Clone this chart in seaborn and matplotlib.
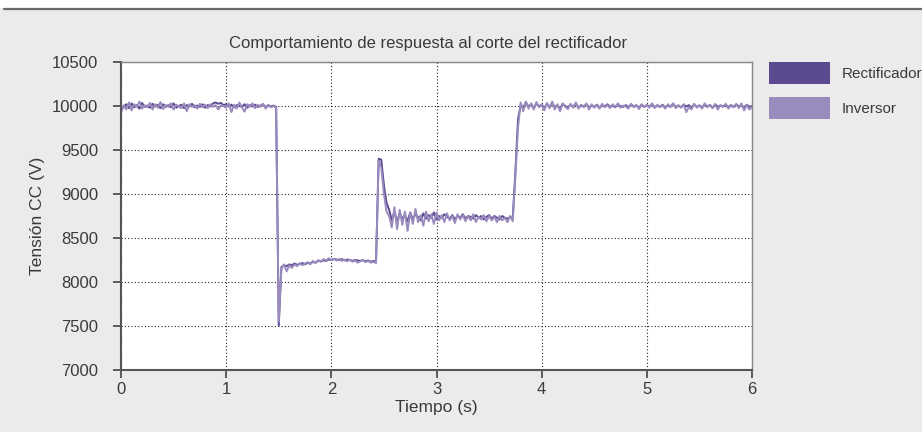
import numpy as np
import pandas as pd
import matplotlib
matplotlib.use("Agg")
import matplotlib.pyplot as plt
from matplotlib.patches import Patch, Rectangle
from matplotlib.lines import Line2D
import seaborn as sns

# ---------------- data (dt = 0.025 s) ----------------
dt = 0.025
rect_a = [9950, 9990, 10020, 9975, 10030, 9985, 10010, 9970, 10035, 9990,
          10005, 9980, 10025, 9995, 10015, 9975, 10020, 9990, 10010, 9985,
          10030, 9980, 10000, 10015, 9975, 10010, 9995, 10025, 9985, 10005,
          9990, 10020, 9980, 10010, 9995, 10030, 10040, 10025, 10035, 10010,
          10020, 9995, 10015, 9985, 10010, 10000, 9990, 10020, 9980, 10010,
          9995, 10015, 9990, 10005, 10020, 9985, 10010, 9995, 10005, 9990]
rect_drop = [7500]
rect_b = [8170, 8190, 8180, 8200, 8190, 8210, 8195, 8205, 8215, 8200,
          8220, 8210, 8230, 8220, 8240, 8235, 8245, 8240, 8255, 8250,
          8260, 8255, 8250, 8260, 8245, 8255, 8250, 8240, 8250, 8245,
          8240, 8250, 8235, 8245, 8230, 8240, 8230]
rect_peak = [9400, 9390, 9100, 8900, 8820]
rect_c = [8700, 8800, 8680, 8780, 8720, 8760, 8690, 8790, 8710, 8770,
          8740, 8700, 8780, 8720, 8760, 8730, 8790, 8710, 8750, 8730,
          8770, 8740, 8720, 8760, 8710, 8750, 8730, 8770, 8720, 8750,
          8740, 8720, 8760, 8730, 8750, 8710, 8740, 8760, 8720, 8750,
          8730, 8710, 8750, 8730, 8720, 8740, 8730]
rect_rise = [9250, 9850]
rect_d = [10010, 9985, 10040, 9990, 10025, 9975, 10030, 9995, 10015, 9980,
          10020, 9990, 10035, 9985, 10010, 9970, 10025, 10000, 9985, 10015,
          9990, 10030, 9980, 10010, 9995, 10020, 9985, 10005, 9990, 10015,
          9980, 10010, 9995, 10020, 9990, 10005, 9985, 10015, 10000, 9990,
          10010, 9985, 10020, 9995, 10005, 9980, 10015, 9990, 10010, 9995,
          10020, 9985, 10005, 9990, 10015, 9980, 10010, 9995, 10025, 9990,
          10005, 9985, 10015, 9995, 10010, 9980, 10020, 9990, 10005, 9985,
          10015, 9995, 10010, 9980, 10020, 9990, 10005, 9995, 10015, 9985,
          10010, 9990, 10020, 9995, 10005, 9985, 10015, 9990, 10000]

inv_a = [9920, 10010, 9960, 10040, 9950, 10020, 9990, 10050, 9970, 10010,
         9985, 10035, 9960, 10020, 9980, 10045, 9965, 10010, 9990, 10030,
         9960, 10015, 9995, 9975, 10030, 9940, 10020, 9990, 10010, 9970,
         10025, 9985, 10015, 9975, 10020, 9990, 10010, 9960, 10005, 10000,
         9980, 10030, 9930, 10015, 9970, 10040, 9985, 9935, 10020, 9990,
         10030, 9975, 10015, 9990, 10025, 9970, 10010, 9985, 10000, 9980]
inv_drop = [7550]
inv_b = [8150, 8200, 8120, 8190, 8160, 8200, 8180, 8215, 8190, 8210,
         8225, 8200, 8240, 8215, 8250, 8230, 8260, 8245, 8270, 8250,
         8265, 8245, 8260, 8240, 8255, 8235, 8255, 8230, 8245, 8220,
         8235, 8250, 8225, 8240, 8220, 8230, 8215]
inv_peak = [9380, 9300, 9000, 8800, 8750]
inv_c = [8620, 8850, 8600, 8820, 8650, 8800, 8580, 8790, 8660, 8830,
         8680, 8760, 8640, 8800, 8690, 8770, 8660, 8790, 8700, 8760,
         8680, 8780, 8700, 8750, 8670, 8770, 8710, 8760, 8690, 8750,
         8700, 8770, 8680, 8740, 8710, 8760, 8690, 8750, 8700, 8740,
         8680, 8750, 8700, 8730, 8680, 8750, 8690]
inv_rise = [9200, 9750]
inv_d = [10040, 9940, 10050, 9970, 10030, 9960, 10045, 9985, 10020, 9950,
         10035, 9975, 10050, 9960, 10020, 9940, 10030, 9990, 9965, 10025,
         9980, 10040, 9970, 10015, 9985, 10030, 9960, 10020, 9980, 10010,
         9970, 10025, 9985, 10010, 9975, 10020, 9990, 10030, 9980, 10005,
         9995, 9970, 10025, 9985, 10015, 9965, 10020, 9990, 10010, 9980,
         10030, 9975, 10015, 9985, 10010, 9970, 10020, 9985, 10030, 9975,
         10010, 9980, 10020, 9930, 9990, 9960, 10025, 9980, 10010, 9970,
         10030, 9985, 10015, 9975, 10020, 9960, 10010, 9990, 10025, 9970,
         10005, 9985, 10020, 9975, 10030, 9950, 10010, 9960, 9990]

series_names = ["Rectificador", "Inversor"]
title = "Comportamiento de respuesta al corte del rectificador"
x_label = "Tiempo (s)"
y_label = "Tensión CC (V)"
x_ticks = [0, 1, 2, 3, 4, 5, 6]
y_ticks = [7000, 7500, 8000, 8500, 9000, 9500, 10000, 10500]

rect = rect_a + rect_drop + rect_b + rect_peak + rect_c + rect_rise + rect_d
inv = inv_a + inv_drop + inv_b + inv_peak + inv_c + inv_rise + inv_d
t_rect = np.arange(len(rect)) * dt
t_inv = np.arange(len(inv)) * dt

df = pd.concat([
    pd.DataFrame({"t": t_rect, "v": rect, "serie": series_names[0]}),
    pd.DataFrame({"t": t_inv, "v": inv, "serie": series_names[1]}),
])

c_rect = "#5b4a8f"
c_inv = "#9a8bbf"
c_text = "#3a3a3a"

sns.set_theme(style="white")
plt.rcParams["font.family"] = ["Liberation Sans", "DejaVu Sans"]

fig = plt.figure(figsize=(9.22, 4.32), dpi=100)
fig.patch.set_facecolor("#ebebeb")
# white strip with dark rule at top
fig.add_artist(Rectangle((0, 1 - 8 / 432), 1, 8 / 432, transform=fig.transFigure,
                         facecolor="white", edgecolor="none", zorder=0))
fig.add_artist(Line2D([4 / 922, 1], [1 - 9 / 432, 1 - 9 / 432], transform=fig.transFigure,
                      color="#6a6a6a", lw=1.6))

ax = fig.add_axes([121 / 922, 1 - 370 / 432, (752 - 121) / 922, (370 - 62) / 432])
ax.set_facecolor("white")

sns.lineplot(data=df, x="t", y="v", hue="serie", palette=[c_rect, c_inv],
             hue_order=series_names, legend=False, ax=ax, linewidth=1.4,
             estimator=None, sort=False)

ax.set_xlim(0, 6)
ax.set_ylim(7000, 10500)
ax.set_xticks(x_ticks)
ax.set_yticks(y_ticks)
ax.set_xticklabels([str(v) for v in x_ticks], fontsize=12, color=c_text)
ax.set_yticklabels([str(v) for v in y_ticks], fontsize=12, color=c_text)
ax.grid(True, linestyle=(0, (1, 2)), color="#222222", linewidth=0.8)
ax.tick_params(axis="both", direction="out", length=5.8, width=1.2, color="#444444",
               bottom=True, left=True)
ax.tick_params(axis="y", pad=10.5)
ax.tick_params(axis="x", pad=3)
for side in ["left", "bottom"]:
    ax.spines[side].set_color("#555555")
    ax.spines[side].set_linewidth(1.5)
for side in ["top", "right"]:
    ax.spines[side].set_color("#888888")
    ax.spines[side].set_linewidth(1.0)

ax.set_xlabel(x_label, fontsize=12.5, color=c_text, labelpad=2)
ax.set_ylabel(y_label, fontsize=12.5, color=c_text, labelpad=5)
ax.set_title(title, fontsize=12, color=c_text, pad=10, x=0.487)

handles = [Patch(facecolor=c_rect, edgecolor="none"), Patch(facecolor=c_inv, edgecolor="none")]
leg = fig.legend(handles, series_names, loc="upper left",
                 bbox_to_anchor=(769 / 922, 1 - 62 / 432), frameon=False,
                 fontsize=11, handlelength=4.0, handleheight=1.8,
                 labelspacing=0.88, handletextpad=0.75, borderpad=0, borderaxespad=0)
for txt in leg.get_texts():
    txt.set_color(c_text)

fig.savefig("out.png", dpi=100, facecolor=fig.get_facecolor())
